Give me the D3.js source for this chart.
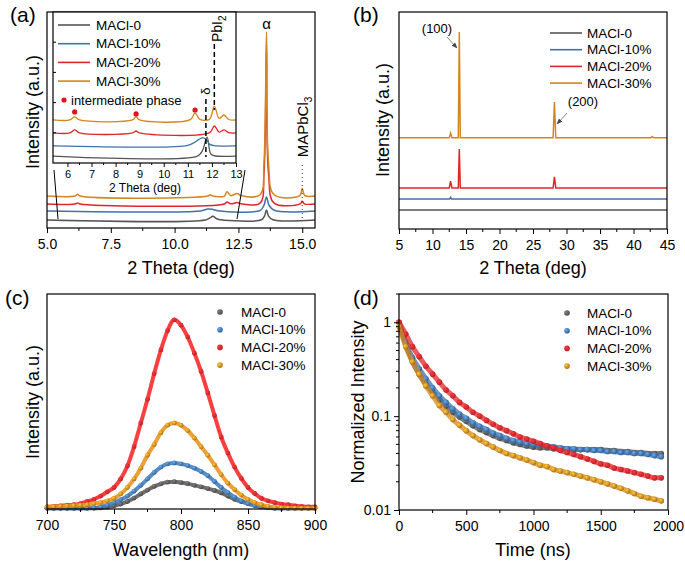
<!DOCTYPE html>
<html><head><meta charset="utf-8">
<script src="https://cdn.jsdelivr.net/npm/d3@7"></script>
<style>body{margin:0;background:#fff}svg{font-family:"Liberation Sans",Arial,sans-serif}</style>
</head><body><svg id="c" width="685" height="561"></svg>
<script>
const names=["MACl-0","MACl-10%","MACl-20%","MACl-30%"];
const colors=["#555555","#3f72aa","#e0262a","#d4861e"];
// (a) main XRD [2theta, intensity]
const aMain=[
[[5,3.7],[11.2,3.7],[11.4,4.8],[11.5,5.4],[11.65,4.3],[11.8,3.8],[13.4,3.8],[13.52,5.5],[13.6,8.3],[13.68,5.5],[13.85,3.8],[15.5,3.7]],
[[5,7.9],[11.0,7.9],[11.3,8.8],[11.5,8.6],[11.7,8.0],[13.35,8.1],[13.5,10.5],[13.6,14.4],[13.7,10.5],[13.9,8.2],[15.5,7.9]],
[[5,11.1],[6.1,11.1],[6.2,11.6],[6.3,11.1],[11.95,11.1],[12.05,12.0],[12.2,11.2],[12.45,11.8],[12.6,11.2],[13.35,11.5],[13.5,25],[13.6,85],[13.68,25],[13.9,11.5],[14.92,11.2],[15.0,12.4],[15.08,11.2],[15.5,11.1]],
[[5,14.8],[6.1,14.8],[6.2,15.6],[6.3,14.8],[11.3,14.8],[11.4,15.4],[11.5,14.8],[11.95,14.8],[12.05,16.8],[12.2,15],[12.45,16.0],[12.6,15],[13.35,15.4],[13.5,30],[13.6,90.7],[13.68,30],[13.9,15.4],[14.9,15],[15.0,18.3],[15.1,15],[15.5,14.8]]
];
// (a) inset
const aInset=[
[[5.4,4.6],[11.4,4.6],[11.6,8],[11.8,17.2],[11.95,6],[12.1,4.8],[13,4.6]],
[[5.4,11.3],[10.9,11.4],[11.2,13],[11.45,15.5],[11.6,16.6],[11.75,15.8],[11.9,12.5],[12.1,11.5],[13,11.3]],
[[5.4,19.9],[6.1,19.9],[6.3,21.9],[6.5,19.9],[8.7,19.9],[8.85,21.2],[9.0,19.9],[11.9,20.1],[12.1,24.5],[12.3,20.5],[12.5,21.9],[12.7,20.1],[13,19.9]],
[[5.4,28.5],[6.1,28.5],[6.3,30.5],[6.5,28.5],[8.7,28.5],[8.85,30.5],[9.0,28.5],[11.1,28.7],[11.3,33.1],[11.5,28.9],[11.9,29],[12.1,37.7],[12.3,29.5],[12.5,31.8],[12.7,28.8],[13,28.5]]
];
const aDots=[[6.3,33.8],[8.85,32.5],[11.3,35.1]];
const aTicks=[5,7.5,10,12.5,15];
// (b) XRD
const bData=[
[[5,8.8],[45,8.8]],
[[5,13.8],[12.55,13.8],[12.7,14.6],[12.85,13.8],[45,13.8]],
[[5,18.9],[12.5,18.9],[12.7,22.1],[12.9,18.9],[13.85,18.9],[14.0,36.9],[14.15,18.9],[28.0,18.9],[28.2,24],[28.4,18.9],[45,18.9]],
[[5,42],[12.5,42],[12.7,44.2],[12.9,42],[13.85,42],[14.0,90.8],[14.15,42],[28.0,42],[28.2,58.5],[28.4,42],[42.6,42],[42.8,42.6],[43.0,42],[45,42]]
];
const bTicks=[5,10,15,20,25,30,35,40,45];
// (c) PL, 700..900 step 5
const cWave=d3.range(700,901,5);
const cData=[
[0.3,0.3,0.3,0.3,0.3,0.3,0.3,0.3,0.5,0.9,1.5,2.3,3.5,5.1,7,8.8,10.5,11.7,12.5,12.7,12.3,11.8,11,10.3,9.5,8.6,7.5,6,4.5,3.4,2.5,1.7,1,0.7,0.4,0.3,0.3,0.3,0.3,0.3,0.3],
[0.3,0.3,0.3,0.3,0.3,0.3,0.4,0.5,1,1.8,3,4.3,6,8.3,11,14,17,19.5,21,21.4,21,20.2,19,17.4,15.5,12.8,10,7.6,5.5,3.8,2.5,1.6,1,0.6,0.3,0.3,0.3,0.3,0.3,0.3,0.3],
[1,1.2,1.5,1.8,2,2.5,3.5,4.5,6,8,10,14,20,29,40,51,63,74,83,88,85.5,80,72.5,64,54,43.5,33.5,26,19.5,14.2,10,7.2,5,3.8,3,2.3,2,1.5,1.2,1,1],
[1,1.1,1.2,1.4,1.6,1.8,2,2.5,3,3.8,5,7,10,14,19,25,30,35.5,39,40,39,36.5,33,29,25,20.5,16,12,9,6.5,4.5,3,2,1.2,0.8,0.6,0.5,0.4,0.3,0.3,0.3]
];
// (d) TRPL, 0..1950 step 50
const dTime=d3.range(0,1951,50);
const dData=[
[1,0.58,0.38,0.28,0.22,0.18,0.15,0.128,0.11,0.098,0.088,0.079,0.072,0.067,0.062,0.058,0.055,0.052,0.05,0.048,0.047,0.046,0.046,0.045,0.045,0.045,0.044,0.044,0.044,0.044,0.044,0.043,0.043,0.042,0.042,0.041,0.041,0.04,0.04,0.04],
[1,0.6,0.42,0.32,0.25,0.2,0.165,0.14,0.12,0.105,0.095,0.085,0.078,0.072,0.066,0.062,0.058,0.055,0.053,0.051,0.05,0.049,0.048,0.047,0.046,0.045,0.045,0.044,0.044,0.043,0.043,0.042,0.042,0.041,0.041,0.04,0.04,0.039,0.038,0.037],
[1,0.75,0.55,0.43,0.34,0.28,0.23,0.19,0.165,0.14,0.125,0.11,0.1,0.09,0.082,0.075,0.07,0.065,0.06,0.057,0.054,0.051,0.048,0.046,0.043,0.041,0.039,0.037,0.035,0.033,0.031,0.03,0.028,0.027,0.026,0.025,0.024,0.023,0.022,0.022],
[0.9,0.55,0.38,0.28,0.21,0.165,0.13,0.11,0.092,0.08,0.07,0.062,0.056,0.051,0.047,0.043,0.04,0.038,0.036,0.034,0.032,0.03,0.029,0.027,0.026,0.025,0.024,0.023,0.022,0.021,0.02,0.019,0.018,0.017,0.016,0.015,0.014,0.0135,0.013,0.0125]
];

const svg=d3.select("#c");
const defs=svg.append("defs");
colors.forEach((c,i)=>{const g=defs.append("radialGradient").attr("id","g"+i).attr("cx","35%").attr("cy","35%").attr("r","65%");
g.append("stop").attr("offset","0%").attr("stop-color",d3.color(c).brighter(1.2));
g.append("stop").attr("offset","100%").attr("stop-color",d3.color(c).darker(0.5));});

function frame(x0,y0,x1,y1){svg.append("rect").attr("x",x0).attr("y",y0).attr("width",x1-x0).attr("height",y1-y0).attr("fill","none").attr("stroke","#000").attr("stroke-width",1.2);}
function bottomAxis(x,y,ticks,fmt,minor){
  const g=svg.append("g").attr("transform",`translate(0,${y})`);
  g.call(d3.axisBottom(x).tickValues(ticks).tickFormat(fmt).tickSize(5).tickSizeOuter(0));
  g.select(".domain").remove();
  g.selectAll("text").attr("font-size",14).attr("font-family","Liberation Sans, Arial").attr("dy","0.9em");
  if(minor) minor.forEach(v=>g.append("line").attr("x1",x(v)).attr("x2",x(v)).attr("y1",0).attr("y2",3).attr("stroke","#000"));
}
function text(x,y,t,size,opt={}){const e=svg.append("text").attr("x",x).attr("y",y).attr("font-size",size).text(t).attr("text-anchor",opt.anchor||"middle");if(opt.rot)e.attr("transform",`rotate(-90,${x},${y})`);return e;}

// ---- (a)
const ax=d3.scaleLinear().domain([5,15.5]).range([47,315]);
const ay=d3.scaleLinear().domain([0,100]).range([228,12]);
aMain.forEach((s,i)=>svg.append("path").attr("d",d3.line().x(d=>ax(d[0])).y(d=>ay(d[1])).curve(d3.curveCatmullRom)(s)).attr("fill","none").attr("stroke",colors[i]).attr("stroke-width",1.5));
frame(47,12,315,228);
bottomAxis(ax,228,aTicks,d3.format(".1f"),[6.25,8.75,11.25,13.75]);
text(181,274,"2 Theta (deg)",18);
text(33,112,"Intensity (a.u.)",18,{rot:true}).attr("dy","0.35em");
text(10,22,"(a)",21,{anchor:"start"});
text(ax(13.6),29,"α",15);
svg.append("line").attr("x1",ax(15.0)).attr("x2",ax(15.0)).attr("y1",165).attr("y2",218).attr("stroke","#333").attr("stroke-dasharray","1,3");
text(ax(15.0)+1,127,"MAPbCl",15,{rot:true}).attr("dy","0.35em").append("tspan").attr("font-size",10).attr("dy","4").text("3");
// zoom lines
svg.append("line").attr("x1",58).attr("y1",219).attr("x2",54).attr("y2",170).attr("stroke","#000");
svg.append("line").attr("x1",237).attr("y1",219).attr("x2",245).attr("y2",170).attr("stroke","#000");
// inset
const ix=d3.scaleLinear().domain([5.4,13]).range([53,236]);
const iy=d3.scaleLinear().domain([0,100]).range([163,12]);
svg.append("rect").attr("x",53).attr("y",12).attr("width",183).attr("height",151).attr("fill","#fff");
aInset.forEach((s,i)=>svg.append("path").attr("d",d3.line().x(d=>ix(d[0])).y(d=>iy(d[1])).curve(d3.curveCatmullRom)(s)).attr("fill","none").attr("stroke",colors[i]).attr("stroke-width",1.3));
svg.selectAll(".idot").data(aDots).join("circle").attr("cx",d=>ix(d[0])).attr("cy",d=>iy(d[1])).attr("r",2.6).attr("fill","#e0141a");
svg.append("rect").attr("x",53).attr("y",12).attr("width",183).attr("height",151).attr("fill","none").attr("stroke","#000").attr("stroke-width",1.2);
{const g=svg.append("g").attr("transform","translate(0,163)");
 g.call(d3.axisBottom(ix).tickValues([6,7,8,9,10,11,12,13]).tickSize(4).tickSizeOuter(0));
 g.select(".domain").remove();g.selectAll("text").attr("font-size",11).attr("font-family","Liberation Sans, Arial");
 [6.5,7.5,8.5,9.5,10.5,11.5,12.5].forEach(v=>g.append("line").attr("x1",ix(v)).attr("x2",ix(v)).attr("y2",2).attr("stroke","#000"));
 [20,40,60,80].forEach(v=>svg.append("line").attr("x1",53).attr("x2",56).attr("y1",iy(v)).attr("y2",iy(v)).attr("stroke","#000"));}
text(145,192,"2 Theta (deg)",12);
svg.append("line").attr("x1",ix(11.75)).attr("x2",ix(11.75)).attr("y1",99).attr("y2",157).attr("stroke","#000").attr("stroke-width",1.5).attr("stroke-dasharray","5,3");
svg.append("line").attr("x1",ix(12.1)).attr("x2",ix(12.1)).attr("y1",44).attr("y2",110).attr("stroke","#000").attr("stroke-width",1.5).attr("stroke-dasharray","5,3");
text(ix(11.75),91,"δ",13,{rot:true}).attr("dy","0.35em");
text(ix(12.1)+3,42,"PbI",14,{rot:true,anchor:"start"}).attr("dy","0.35em").append("tspan").attr("font-size",10).attr("dy","4").text("2");
names.forEach((n,i)=>{const y=25+i*18.7;svg.append("line").attr("x1",58).attr("x2",90).attr("y1",y).attr("y2",y).attr("stroke",colors[i]).attr("stroke-width",1.6);text(96,y,n,13.5,{anchor:"start"}).attr("dy","0.35em");});
svg.append("circle").attr("cx",64).attr("cy",100).attr("r",2.6).attr("fill","#e0141a");
text(71,100,"intermediate phase",13,{anchor:"start"}).attr("dy","0.35em");

// ---- (b)
const bx=d3.scaleLinear().domain([5,45]).range([399,667]);
const by=d3.scaleLinear().domain([0,100]).range([229,12]);
bData.forEach((s,i)=>svg.append("path").attr("d",d3.line().x(d=>bx(d[0])).y(d=>by(d[1])).curve(d3.curveLinear)(s)).attr("fill","none").attr("stroke",colors[i]).attr("stroke-width",1.5));
frame(399,12,667,229);
bottomAxis(bx,229,bTicks,d3.format("d"),[7.5,12.5,17.5,22.5,27.5,32.5,37.5,42.5]);
text(533,274,"2 Theta (deg)",18);
text(383,120,"Intensity (a.u.)",18,{rot:true}).attr("dy","0.35em");
text(353,22,"(b)",21,{anchor:"start"});
text(437,33,"(100)",13);
text(583,106,"(200)",13);
defs.append("marker").attr("id","ar").attr("viewBox","0 0 10 10").attr("refX",9).attr("refY",5).attr("markerWidth",6).attr("markerHeight",6).attr("orient","auto").append("path").attr("d","M0,1L10,5L0,9z").attr("fill","#444");
svg.append("line").attr("x1",447).attr("y1",37).attr("x2",457).attr("y2",48).attr("stroke","#888").attr("marker-end","url(#ar)");
svg.append("line").attr("x1",567).attr("y1",113).attr("x2",557).attr("y2",124).attr("stroke","#888").attr("marker-end","url(#ar)");
names.forEach((n,i)=>{const y=33+i*16.7;svg.append("line").attr("x1",550).attr("x2",582).attr("y1",y).attr("y2",y).attr("stroke",colors[i]).attr("stroke-width",1.6);text(587,y,n,13.5,{anchor:"start"}).attr("dy","0.35em");});

// ---- (c)
const cx=d3.scaleLinear().domain([700,900]).range([47,315]);
const cy=d3.scaleLinear().domain([0,100]).range([509,294]);
cData.forEach((s,i)=>{
  const pts=s.map((v,j)=>[cWave[j],v]);
  svg.append("path").attr("d",d3.line().x(d=>cx(d[0])).y(d=>cy(d[1])).curve(d3.curveMonotoneX)(pts)).attr("fill","none").attr("stroke",d3.color(colors[i]).brighter(0.3)).attr("stroke-width",4).attr("opacity",0.9);
  svg.append("g").selectAll("circle").data(pts).join("circle").attr("cx",d=>cx(d[0])).attr("cy",d=>cy(d[1])).attr("r",2.4).attr("fill",`url(#g${i})`);
});
frame(47,294,315,509);
bottomAxis(cx,509,[700,750,800,850,900],d3.format("d"),[725,775,825,875]);
text(181,556,"Wavelength (nm)",18);
text(33,402,"Intensity (a.u.)",18,{rot:true}).attr("dy","0.35em");
text(5,305,"(c)",21,{anchor:"start"});
names.forEach((n,i)=>{const y=312+i*17.7;svg.append("circle").attr("cx",220).attr("cy",y).attr("r",2.8).attr("fill",`url(#g${i})`);text(241,y,n,13.5,{anchor:"start"}).attr("dy","0.35em");});

// ---- (d)
const dx=d3.scaleLinear().domain([0,2000]).range([399,668]);
const dy=d3.scaleLog().domain([0.01,2]).range([510,294]);
dData.forEach((s,i)=>{
  const pts=s.map((v,j)=>[dTime[j],v]);
  svg.append("path").attr("d",d3.line().x(d=>dx(d[0])).y(d=>dy(d[1])).curve(d3.curveMonotoneX)(pts)).attr("fill","none").attr("stroke",colors[i]).attr("stroke-width",5).attr("opacity",0.75);
  svg.append("g").selectAll("circle").data(pts).join("circle").attr("cx",d=>dx(d[0])).attr("cy",d=>dy(d[1])).attr("r",2.8).attr("fill",`url(#g${i})`);
});
frame(399,294,668,510);
bottomAxis(dx,510,[0,500,1000,1500,2000],d3.format("d"),[250,750,1250,1750]);
{const g=svg.append("g").attr("transform","translate(399,0)");
 g.call(d3.axisLeft(dy).tickValues([0.01,0.1,1]).tickFormat(d=>d===1?"1":String(d)).tickSize(5).tickSizeOuter(0));
 g.select(".domain").remove();g.selectAll("text").attr("font-size",14).attr("font-family","Liberation Sans, Arial");
 [0.02,0.03,0.04,0.05,0.06,0.07,0.08,0.09,0.2,0.3,0.4,0.5,0.6,0.7,0.8,0.9,2].forEach(v=>g.append("line").attr("x1",0).attr("x2",-3).attr("y1",dy(v)).attr("y2",dy(v)).attr("stroke","#000"));}
text(533,556,"Time (ns)",18);
text(358,402,"Normalized Intensity",18,{rot:true}).attr("dy","0.35em");
text(353,305,"(d)",21,{anchor:"start"});
names.forEach((n,i)=>{const y=313+i*17.7;svg.append("circle").attr("cx",567).attr("cy",y).attr("r",2.8).attr("fill",`url(#g${i})`);text(587,y,n,13.5,{anchor:"start"}).attr("dy","0.35em");});
</script></body></html>
